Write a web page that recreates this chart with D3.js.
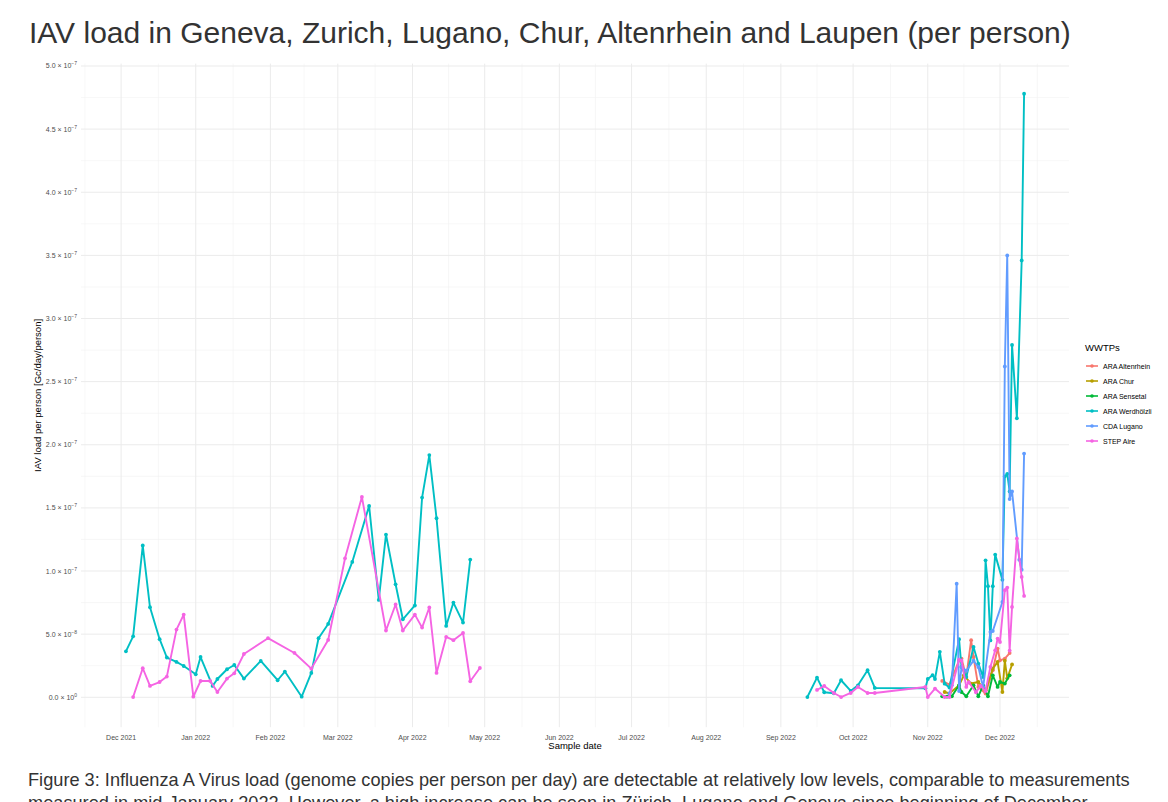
<!DOCTYPE html>
<html>
<head>
<meta charset="utf-8">
<script src="https://cdn.jsdelivr.net/npm/d3@7"></script>
<style>
  body { margin: 0; background: #fff; overflow: hidden; }
  svg { font-family: "Liberation Sans", Arial, sans-serif; }
</style>
</head>
<body>
<svg id="chart" width="1168" height="802"></svg>
<script>
// values are in units of 1e-8 Gc/day/person; null breaks the line
const altenrheinDates = ['2022-11-07','2022-11-10','2022-11-14','2022-11-15','2022-11-17','2022-11-19','2022-11-20','2022-11-22','2022-11-25','2022-11-28','2022-11-30','2022-12-01','2022-12-03','2022-12-05'];
const altenrheinValues = [1.3, 1.0, 2.93, 3.07, 1.6, 4.52, 3.19, 0.82, 0.3, 2.14, 3.86, 2.93, 3.07, 3.5];

const churDates = ['2022-11-08','2022-11-10','2022-11-14','2022-11-16','2022-11-19','2022-11-22','2022-11-25','2022-11-28','2022-11-30','2022-12-02','2022-12-03','2022-12-04','2022-12-06'];
const churValues = [0.42, 0.3, 0.95, 1.74, 1.09, 1.21, 0.55, 2.27, 2.8, 0.42, 2.9, 1.5, 2.6];

const sensetalDates = ['2022-11-07','2022-11-09','2022-11-11','2022-11-14','2022-11-15','2022-11-17','2022-11-20','2022-11-22','2022-11-24','2022-11-26','2022-11-28','2022-11-30','2022-12-01','2022-12-03','2022-12-05'];
const sensetalValues = [0.08, 0.05, 0.08, 0.95, 0.42, 0.08, 0.95, 0.08, 0.95, 0.08, 1.74, 0.82, 1.21, 1.09, 1.74];

const werdhoelzliDates = ['2021-12-03','2021-12-06','2021-12-10','2021-12-13','2021-12-17','2021-12-20','2021-12-24','2021-12-27','2022-01-01','2022-01-03','2022-01-08','2022-01-10','2022-01-14','2022-01-17','2022-01-21','2022-01-28','2022-02-04','2022-02-07','2022-02-14','2022-02-18','2022-02-21','2022-02-25','2022-03-07','2022-03-14','2022-03-18','2022-03-21','2022-03-25','2022-03-28','2022-04-02','2022-04-05','2022-04-08','2022-04-11','2022-04-15','2022-04-18','2022-04-22','2022-04-25',
  null,
  '2022-09-12','2022-09-16','2022-09-19','2022-09-23','2022-09-26','2022-09-30','2022-10-03','2022-10-07','2022-10-10','2022-10-31','2022-11-01','2022-11-03','2022-11-04','2022-11-06','2022-11-08','2022-11-10','2022-11-14','2022-11-15','2022-11-17','2022-11-20','2022-11-22','2022-11-24','2022-11-25','2022-11-26','2022-11-27','2022-11-28','2022-11-29','2022-12-02','2022-12-03','2022-12-04','2022-12-05','2022-12-06','2022-12-08','2022-12-10','2022-12-11'];
const werdhoelzliValues = [3.64, 4.83, 12.02, 7.13, 4.60, 3.15, 2.80, 2.48, 1.82, 3.19, 0.90, 1.45, 2.22, 2.56, 1.48, 2.88, 1.35, 2.04, 0.05, 1.93, 4.68, 5.81, 10.72, 15.16, 7.71, 12.89, 8.95, 6.18, 7.27, 15.82, 19.18, 14.18, 5.65, 7.50, 5.92, 10.91,
  null,
  0.02, 1.56, 0.40, 0.32, 1.35, 0.50, 0.95, 2.14, 0.74, 0.71, 1.45, 1.75, 1.45, 3.6, 1.08, 0.77, 4.6, 2.4, 1.6, 3.99, 2.67, 1.6, 10.85, 8.8, 4.5, 8.8, 11.3, 9.3, 17.5, 17.7, 16.3, 27.9, 22.1, 34.6, 47.8];

const luganoDates = ['2022-11-10','2022-11-11','2022-11-13','2022-11-14','2022-11-15','2022-11-17','2022-11-20','2022-11-22','2022-11-24','2022-11-27','2022-11-28','2022-12-02','2022-12-03','2022-12-04','2022-12-05','2022-12-06','2022-12-09','2022-12-10','2022-12-11'];
const luganoValues = [0.3, 0.95, 9.0, 0.5, 2.4, 2.1, 2.9, 2.4, 0.8, 5.17, 5.25, 7.55, 26.2, 35.0, 15.7, 16.3, 10.9, 10.1, 19.3];

const aireDates = ['2021-12-06','2021-12-10','2021-12-13','2021-12-17','2021-12-20','2021-12-24','2021-12-27','2021-12-31','2022-01-03','2022-01-07','2022-01-10','2022-01-14','2022-01-17','2022-01-21','2022-01-31','2022-02-11','2022-02-18','2022-02-25','2022-03-04','2022-03-11','2022-03-21','2022-03-25','2022-03-28','2022-04-02','2022-04-05','2022-04-08','2022-04-11','2022-04-15','2022-04-18','2022-04-22','2022-04-25','2022-04-29',
  null,
  '2022-09-16','2022-09-19','2022-09-23','2022-09-26','2022-09-30','2022-10-03','2022-10-07','2022-10-10','2022-10-31','2022-11-01','2022-11-04','2022-11-08','2022-11-10','2022-11-14','2022-11-15','2022-11-17','2022-11-18','2022-11-21','2022-11-23','2022-11-25','2022-11-27','2022-11-29','2022-11-30','2022-12-01','2022-12-03','2022-12-04','2022-12-05','2022-12-06','2022-12-08','2022-12-10','2022-12-11'];
const aireValues = [0.02, 2.30, 0.90, 1.21, 1.64, 5.36, 6.55, 0.05, 1.29, 1.29, 0.42, 1.48, 1.90, 3.43, 4.68, 3.51, 2.27, 4.54, 11.01, 15.87, 5.29, 7.35, 5.29, 6.55, 5.52, 7.11, 1.93, 4.78, 4.52, 5.10, 1.27, 2.32,
  null,
  0.58, 0.90, 0.34, 0.02, 0.34, 0.82, 0.34, 0.34, 0.82, 0.02, 0.69, 0.02, 0.02, 2.99, 2.9, 0.82, 1.2, 0.4, 0.9, 0.5, 2.4, 3.72, 4.65, 4.38, 8.48, 8.69, 3.7, 7.16, 12.58, 9.53, 8.03];

const seriesNames = ['ARA Altenrhein', 'ARA Chur', 'ARA Sensetal', 'ARA Werdhölzli', 'CDA Lugano', 'STEP Aire'];
const seriesColors = ['#F8766D', '#B79F00', '#00BA38', '#00BFC4', '#619CFF', '#F564E3'];
const yTicks = [0, 0.5e-7, 1.0e-7, 1.5e-7, 2.0e-7, 2.5e-7, 3.0e-7, 3.5e-7, 4.0e-7, 4.5e-7, 5.0e-7];

const titleText = 'IAV load in Geneva, Zurich, Lugano, Chur, Altenrhein and Laupen (per person)';
const captionLines = [
  'Figure 3: Influenza A Virus load (genome copies per person per day) are detectable at relatively low levels, comparable to measurements',
  'measured in mid-January 2022. However, a high increase can be seen in Zürich, Lugano and Geneva since beginning of December.'
];

const parse = d3.timeParse('%Y-%m-%d');
const raw = [
  [altenrheinDates, altenrheinValues],
  [churDates, churValues],
  [sensetalDates, sensetalValues],
  [werdhoelzliDates, werdhoelzliValues],
  [luganoDates, luganoValues],
  [aireDates, aireValues]
];
const series = raw.map(([dates, values], i) => ({
  name: seriesNames[i],
  color: seriesColors[i],
  points: dates.map((d, j) => ({
    date: d ? parse(d) : null,
    value: values[j] == null ? null : values[j] * 1e-8
  }))
}));

const allPts = series.flatMap(s => s.points).filter(p => p.value != null);

const panel = { left: 81, right: 1069, top: 63.6, bottom: 727.2 };

// ggplot style 5% expansion
const [dMin, dMax] = d3.extent(allPts, p => p.date);
const dPad = (dMax - dMin) * 0.05;
const x = d3.scaleTime()
  .domain([new Date(+dMin - dPad), new Date(+dMax + dPad)])
  .range([panel.left, panel.right]);

const [vMin, vMax] = d3.extent(allPts, p => p.value);
const vPad = (vMax - vMin) * 0.05;
const y = d3.scaleLinear()
  .domain([vMin - vPad, vMax + vPad])
  .range([panel.bottom, panel.top]);

const svg = d3.select('#chart');

// grid
const grid = svg.append('g');
const months = d3.timeMonth.range(new Date(2021, 10, 1), new Date(2023, 1, 1));
const minorX = months.slice(0, -1).map((m, i) => new Date((+m + +months[i + 1]) / 2))
  .filter(d => d >= x.domain()[0] && d <= x.domain()[1]);
const majorX = months.filter(d => d >= x.domain()[0] && d <= x.domain()[1]);
const minorY = d3.range(0.25e-7, 5.1e-7, 0.5e-7).filter(v => v >= y.domain()[0] && v <= y.domain()[1]);

grid.selectAll('line.minx').data(minorX).join('line')
  .attr('x1', d => x(d)).attr('x2', d => x(d))
  .attr('y1', panel.top).attr('y2', panel.bottom)
  .attr('stroke', '#f2f2f2').attr('stroke-width', 0.6);
grid.selectAll('line.miny').data(minorY).join('line')
  .attr('x1', panel.left).attr('x2', panel.right)
  .attr('y1', d => y(d)).attr('y2', d => y(d))
  .attr('stroke', '#f2f2f2').attr('stroke-width', 0.6);
grid.selectAll('line.majx').data(majorX).join('line')
  .attr('x1', d => x(d)).attr('x2', d => x(d))
  .attr('y1', panel.top).attr('y2', panel.bottom)
  .attr('stroke', '#ebebeb').attr('stroke-width', 1);
grid.selectAll('line.majy').data(yTicks).join('line')
  .attr('x1', panel.left).attr('x2', panel.right)
  .attr('y1', d => y(d)).attr('y2', d => y(d))
  .attr('stroke', '#ebebeb').attr('stroke-width', 1);

// x axis labels
const fmtMonth = d3.timeFormat('%b %Y');
svg.append('g').selectAll('text').data(majorX).join('text')
  .attr('x', d => x(d)).attr('y', 740)
  .attr('text-anchor', 'middle')
  .attr('font-size', 7).attr('fill', '#4d4d4d')
  .text(d => fmtMonth(d));

// y axis labels: m.m × 10^e
const yLab = svg.append('g').selectAll('text').data(yTicks).join('text')
  .attr('x', 77).attr('y', d => y(d) + 2.5)
  .attr('text-anchor', 'end')
  .attr('font-size', 7).attr('fill', '#4d4d4d');
yLab.each(function(v) {
  let e = 0, m = 0;
  if (v !== 0) {
    e = Math.floor(Math.log10(v) + 1e-9);
    m = v / Math.pow(10, e);
  }
  const t = d3.select(this);
  t.append('tspan').text(m.toFixed(1) + ' \u00d7 10');
  t.append('tspan').attr('dy', -3).attr('font-size', 5).text(String(e).replace('-', '\u2212'));
});

// axis titles
svg.append('text')
  .attr('x', (panel.left + panel.right) / 2).attr('y', 749)
  .attr('text-anchor', 'middle').attr('font-size', 9.5).attr('fill', '#000')
  .text('Sample date');
svg.append('text')
  .attr('transform', `translate(41,${(panel.top + panel.bottom) / 2}) rotate(-90)`)
  .attr('text-anchor', 'middle').attr('font-size', 9.5).attr('fill', '#000')
  .text('IAV load per person [Gc/day/person]');

// lines and points
const line = d3.line()
  .defined(p => p.value != null)
  .x(p => x(p.date)).y(p => y(p.value));

const marks = svg.append('g');
series.forEach(s => {
  marks.append('path')
    .datum(s.points)
    .attr('d', line)
    .attr('fill', 'none')
    .attr('stroke', s.color)
    .attr('stroke-width', 1.9)
    .attr('stroke-linejoin', 'round');
  marks.append('g').selectAll('circle')
    .data(s.points.filter(p => p.value != null))
    .join('circle')
    .attr('cx', p => x(p.date)).attr('cy', p => y(p.value))
    .attr('r', 1.9).attr('fill', s.color);
});

// legend
const legend = svg.append('g').attr('transform', 'translate(1085,0)');
legend.append('text').attr('x', 0).attr('y', 351)
  .attr('font-size', 9.5).attr('fill', '#000').text('WWTPs');
const item = legend.selectAll('g.item').data(series).join('g')
  .attr('transform', (d, i) => `translate(0,${366 + i * 15})`);
item.append('line').attr('x1', 1).attr('x2', 13).attr('y1', 0).attr('y2', 0)
  .attr('stroke', d => d.color).attr('stroke-width', 1.6);
item.append('circle').attr('cx', 7).attr('cy', 0).attr('r', 1.8).attr('fill', d => d.color);
item.append('text').attr('x', 18).attr('y', 2.5)
  .attr('font-size', 7).attr('fill', '#000').text(d => d.name);

// title and caption (second caption line runs off the bottom, as in the source page)
svg.append('text').attr('x', 29).attr('y', 43)
  .attr('font-size', 30).attr('fill', '#333').text(titleText);
svg.append('g').selectAll('text').data(captionLines).join('text')
  .attr('x', 28).attr('y', (d, i) => 786 + i * 23)
  .attr('font-size', 18.2).attr('fill', '#333').text(d => d);
</script>
</body>
</html>
